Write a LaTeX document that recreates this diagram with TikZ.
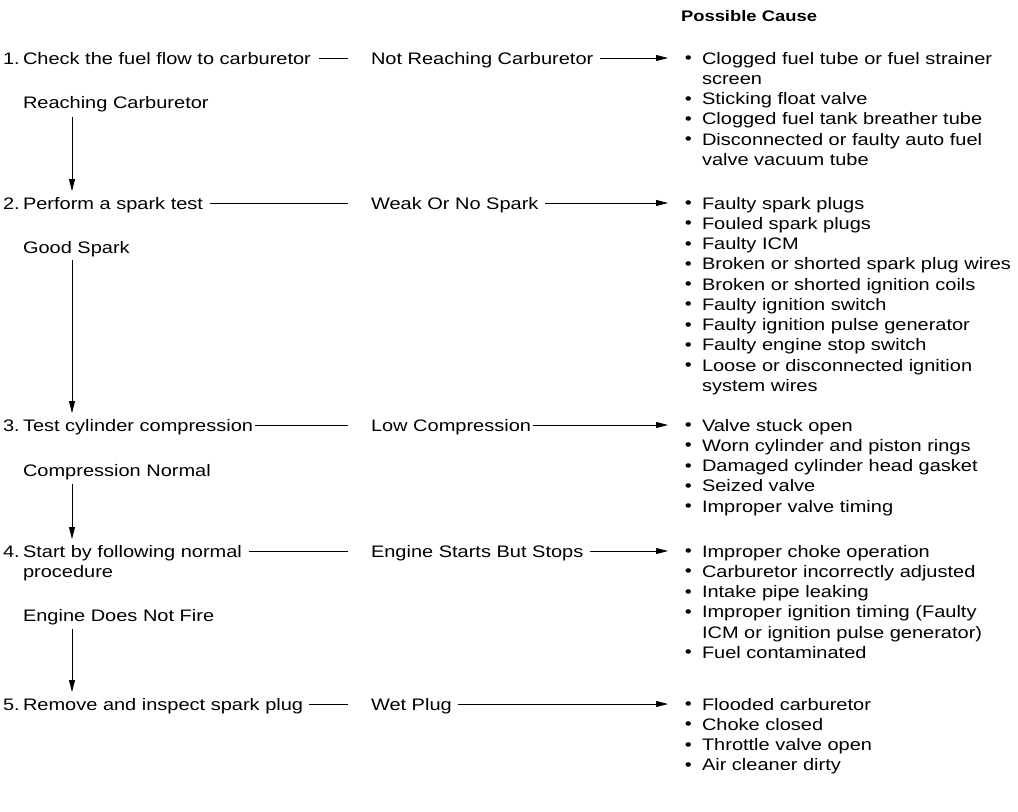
\documentclass[tikz,border=0pt]{standalone}
\usepackage{fontspec}
\setmainfont[FakeStretch=1.2]{Liberation Sans}
\usetikzlibrary{arrows.meta}
\tikzset{
  txt/.style={inner sep=0pt, outer sep=0pt, anchor=west, text height=9pt, text depth=0pt, font=\fontsize{12.5}{15.2}\selectfont},
  causes/.style={inner sep=0pt, outer sep=0pt, anchor=base west, font=\fontsize{12.5}{15.2}\selectfont},
  head/.style={inner sep=0pt, outer sep=0pt, anchor=west, text height=8pt, text depth=0pt, font=\fontsize{11.5}{15}\selectfont\bfseries},
  conn/.style={line width=0.6pt},
  arr/.style={line width=0.6pt, -{Triangle[length=9pt,width=4.5pt]}},
}
\newcommand{\bul}{\makebox[13.5pt][l]{\hspace*{0.6pt}\raisebox{0.3pt}{\textbullet}}}
\newcommand{\cont}{\hspace*{13.5pt}}
\newcommand{\num}[1]{\makebox[15pt][l]{#1}}
\newcommand{\clist}[1]{\parbox[t]{300pt}{\raggedright #1}}
\begin{document}
\begin{tikzpicture}[x=0.75pt,y=-0.75pt]
\useasboundingbox (0,0) rectangle (1018,811);
\coordinate (v) at (72,0);

\node[head] (hd) at (681,16) {Possible Cause};

% step column
\node[txt] (s1) at (3,58) {\num{1.}Check the fuel flow to carburetor};
\node[txt] (r1) at (23,102) {Reaching Carburetor};
\node[txt] (s2) at (3,203) {\num{2.}Perform a spark test};
\node[txt] (r2) at (23,247) {Good Spark};
\node[txt] (s3) at (3,425) {\num{3.}Test cylinder compression};
\node[txt] (r3) at (23,470) {Compression Normal};
\node[txt] (s4) at (3,551) {\num{4.}Start by following normal};
\node[txt] (s4b) at (23,571.3) {procedure};
\node[txt] (r4) at (23,615) {Engine Does Not Fire};
\node[txt] (s5) at (3,704) {\num{5.}Remove and inspect spark plug};

% result labels
\node[txt] (l1) at (371,58) {Not Reaching Carburetor};
\node[txt] (l2) at (371,203) {Weak Or No Spark};
\node[txt] (l3) at (371,425) {Low Compression};
\node[txt] (l4) at (371,551) {Engine Starts But Stops};
\node[txt] (l5) at (371,704) {Wet Plug};

% causes (first baseline = row centre + 6px)
\node[causes] (c1) at (684,64) {\clist{\bul Clogged fuel tube or fuel strainer\\\cont screen\\\bul Sticking float valve\\\bul Clogged fuel tank breather tube\\\bul Disconnected or faulty auto fuel\\\cont valve vacuum tube}};
\node[causes] (c2) at (684,209) {\clist{\bul Faulty spark plugs\\\bul Fouled spark plugs\\\bul Faulty ICM\\\bul Broken or shorted spark plug wires\\\bul Broken or shorted ignition coils\\\bul Faulty ignition switch\\\bul Faulty ignition pulse generator\\\bul Faulty engine stop switch\\\bul Loose or disconnected ignition\\\cont system wires}};
\node[causes] (c3) at (684,431) {\clist{\bul Valve stuck open\\\bul Worn cylinder and piston rings\\\bul Damaged cylinder head gasket\\\bul Seized valve\\\bul Improper valve timing}};
\node[causes] (c4) at (684,557) {\clist{\bul Improper choke operation\\\bul Carburetor incorrectly adjusted\\\bul Intake pipe leaking\\\bul Improper ignition timing (Faulty\\\cont ICM or ignition pulse generator)\\\bul Fuel contaminated}};
\node[causes] (c5) at (684,710) {\clist{\bul Flooded carburetor\\\bul Choke closed\\\bul Throttle valve open\\\bul Air cleaner dirty}};

% horizontal connectors
\draw[conn] ([xshift=6pt]s1.east) -- ([xshift=-17pt]l1.west);
\draw[arr] ([xshift=5pt]l1.east) -- ([xshift=-12pt]c1.west |- l1.east);
\draw[conn] ([xshift=5pt]s2.east) -- ([xshift=-17pt]l2.west);
\draw[arr] ([xshift=5pt]l2.east) -- ([xshift=-12pt]c2.west |- l2.east);
\draw[conn] ([xshift=1.5pt]s3.east) -- ([xshift=-17pt]l3.west);
\draw[arr] ([xshift=1.5pt]l3.east) -- ([xshift=-12pt]c3.west |- l3.east);
\draw[conn] ([xshift=5pt]s4.east) -- ([xshift=-17pt]l4.west);
\draw[arr] ([xshift=5pt]l4.east) -- ([xshift=-12pt]c4.west |- l4.east);
\draw[conn] ([xshift=4.5pt]s5.east) -- ([xshift=-17pt]l5.west);
\draw[arr] ([xshift=4.5pt]l5.east) -- ([xshift=-12pt]c5.west |- l5.east);

% vertical connectors
\draw[arr] ([yshift=-7pt]r1.south -| v) -- ([yshift=4.5pt]s2.north -| v);
\draw[arr] ([yshift=-5pt]r2.south -| v) -- ([yshift=4.5pt]s3.north -| v);
\draw[arr] ([yshift=-6pt]r3.south -| v) -- ([yshift=4.5pt]s4.north -| v);
\draw[arr] ([yshift=-6pt]r4.south -| v) -- ([yshift=4.5pt]s5.north -| v);
\end{tikzpicture}
\end{document}
